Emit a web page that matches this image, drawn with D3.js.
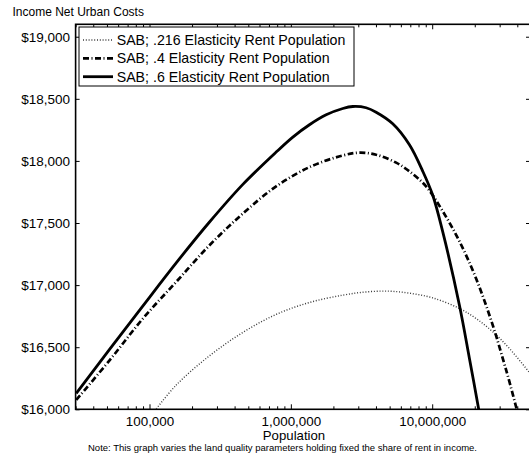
<!DOCTYPE html>
<html>
<head>
<meta charset="utf-8">
<script src="https://cdn.jsdelivr.net/npm/d3@7/dist/d3.min.js"></script>
<style>
  html, body { margin: 0; padding: 0; background: #fff; }
  svg { display: block; }
  text { font-family: "Liberation Sans", Arial, Helvetica, sans-serif; fill: #000; }
</style>
</head>
<body>
<script>
// Income net of urban costs vs. city population, three rent elasticities
const title = "Income Net Urban Costs";
const xTitle = "Population";
const note = "Note: This graph varies the land quality parameters holding fixed the share of rent in income.";

const seriesNames = [
  "SAB; .216 Elasticity Rent Population",
  "SAB; .4 Elasticity Rent Population",
  "SAB; .6 Elasticity Rent Population"
];

// .216 elasticity
const pop216 = [105600, 154500, 265800, 457600, 787000, 1354000, 2331000, 3408000, 4984000, 6902000, 10090000, 15580000, 20440000, 26810000, 35170000, 50000000];
const inc216 = [15968, 16195, 16431, 16619, 16764, 16860, 16919, 16945, 16951, 16935, 16897, 16812, 16731, 16624, 16490, 16280];

// .4 elasticity
const pop4 = [30310, 52150, 89850, 154500, 265800, 457600, 787000, 1354000, 2331000, 3058000, 4012000, 5556000, 6902000, 9053000, 11878000, 15580000, 20440000, 26810000, 31550000, 35170000, 40290000];
const inc4 = [16075, 16394, 16731, 17026, 17321, 17576, 17795, 17950, 18044, 18066, 18050, 17986, 17916, 17795, 17594, 17353, 17053, 16678, 16410, 16222, 15968];

// .6 elasticity
const pop6 = [30310, 52150, 89850, 154500, 265800, 457600, 787000, 1033000, 1354000, 1777000, 2331000, 2744000, 3408000, 4012000, 5260000, 6902000, 8579000, 10090000, 11878000, 15580000, 18340000, 21580000];
const inc6 = [16129, 16482, 16833, 17179, 17508, 17811, 18071, 18192, 18291, 18371, 18422, 18438, 18428, 18392, 18299, 18130, 17916, 17723, 17428, 16838, 16410, 15968];

const xMajor = [100000, 1000000, 10000000];
const xMinor = [30000, 40000, 50000, 60000, 70000, 80000, 90000,
                200000, 300000, 400000, 500000, 600000, 700000, 800000, 900000,
                2000000, 3000000, 4000000, 5000000, 6000000, 7000000, 8000000, 9000000,
                20000000, 30000000, 40000000];
const yTicks = [16000, 16500, 17000, 17500, 18000, 18500, 19000];

const W = 529, H = 455;
const L = 75.6, R = 531, T = 24.3, B = 409.3;

const svg = d3.select("body").append("svg")
  .attr("width", W).attr("height", H);

const x = d3.scaleLog().domain([30000, 50000000]).range([L, R]);
const y = d3.scaleLinear().domain([16000, 19100]).range([B, T]);

svg.append("defs").append("clipPath").attr("id", "plot-clip")
  .append("rect").attr("x", L).attr("y", T).attr("width", R - L).attr("height", B - T);

// title
svg.append("text").attr("x", 12.5).attr("y", 16.3)
  .style("font-size", "12px").text(title);

// axes with inward ticks
function clean(g) { g.select(".domain").remove(); g.selectAll(".tick line").attr("stroke", "#000").attr("stroke-width", 1); }

svg.append("g").attr("transform", `translate(0,${B})`)
  .call(d3.axisBottom(x).tickValues(xMajor).tickSize(-5).tickPadding(6.8).tickFormat(d3.format(",")))
  .call(clean)
  .call(g => g.selectAll("text").style("font-size", "13.4px").attr("font-family", null));

svg.append("g").attr("transform", `translate(0,${B})`)
  .call(d3.axisBottom(x).tickValues(xMinor).tickSize(-3).tickFormat(""))
  .call(clean);

svg.append("g").attr("transform", `translate(0,${T})`)
  .call(d3.axisTop(x).tickValues(xMajor).tickSize(-5).tickFormat(""))
  .call(clean);

svg.append("g").attr("transform", `translate(0,${T})`)
  .call(d3.axisTop(x).tickValues(xMinor).tickSize(-3).tickFormat(""))
  .call(clean);

svg.append("g").attr("transform", `translate(${L},0)`)
  .call(d3.axisLeft(y).tickValues(yTicks).tickSize(-4).tickPadding(5.6).tickFormat(d3.format("$,")))
  .call(clean)
  .call(g => g.selectAll("text").style("font-size", "13.5px").attr("font-family", null));

svg.append("g").attr("transform", `translate(${R},0)`)
  .call(d3.axisRight(y).tickValues(yTicks).tickSize(-5).tickFormat(""))
  .call(clean);

// plot frame
svg.append("rect").attr("x", L).attr("y", T).attr("width", R - L).attr("height", B - T)
  .attr("fill", "none").attr("stroke", "#000").attr("stroke-width", 1.6);

// curves
const styles = [
  { stroke: "#3a3a3a", width: 1.4, dash: "1,1.8" },
  { stroke: "#000", width: 2.7, dash: "6,2.5,1,2.5" },
  { stroke: "#000", width: 2.8, dash: null }
];
const series = [
  d3.zip(pop216, inc216),
  d3.zip(pop4, inc4),
  d3.zip(pop6, inc6)
];
const line = d3.line().x(d => x(d[0])).y(d => y(d[1])).curve(d3.curveCatmullRom.alpha(0.5));

const plot = svg.append("g").attr("clip-path", "url(#plot-clip)");
series.forEach((s, i) => {
  plot.append("path").datum(s)
    .attr("d", line)
    .attr("fill", "none")
    .attr("stroke", styles[i].stroke)
    .attr("stroke-width", styles[i].width)
    .attr("stroke-dasharray", styles[i].dash)
    .attr("stroke-linejoin", "round");
});

// legend
const lg = svg.append("g");
lg.append("rect").attr("x", 79).attr("y", 27).attr("width", 275).attr("height", 59)
  .attr("fill", "#fff").attr("stroke", "#000").attr("stroke-width", 1);
const rowY = [40, 58.3, 76.7];
seriesNames.forEach((name, i) => {
  lg.append("line").attr("x1", 83).attr("x2", 113).attr("y1", rowY[i]).attr("y2", rowY[i])
    .attr("stroke", styles[i].stroke).attr("stroke-width", styles[i].width)
    .attr("stroke-dasharray", styles[i].dash);
  lg.append("text").attr("x", 116.7).attr("y", rowY[i] + 5)
    .style("font-size", "14.2px").text(name);
});

// axis title and note
svg.append("text").attr("x", 294).attr("y", 440).attr("text-anchor", "middle")
  .style("font-size", "13.2px").text(xTitle);
svg.append("text").attr("x", 282.5).attr("y", 450.6).attr("text-anchor", "middle")
  .style("font-size", "9.5px").text(note);
</script>
</body>
</html>
